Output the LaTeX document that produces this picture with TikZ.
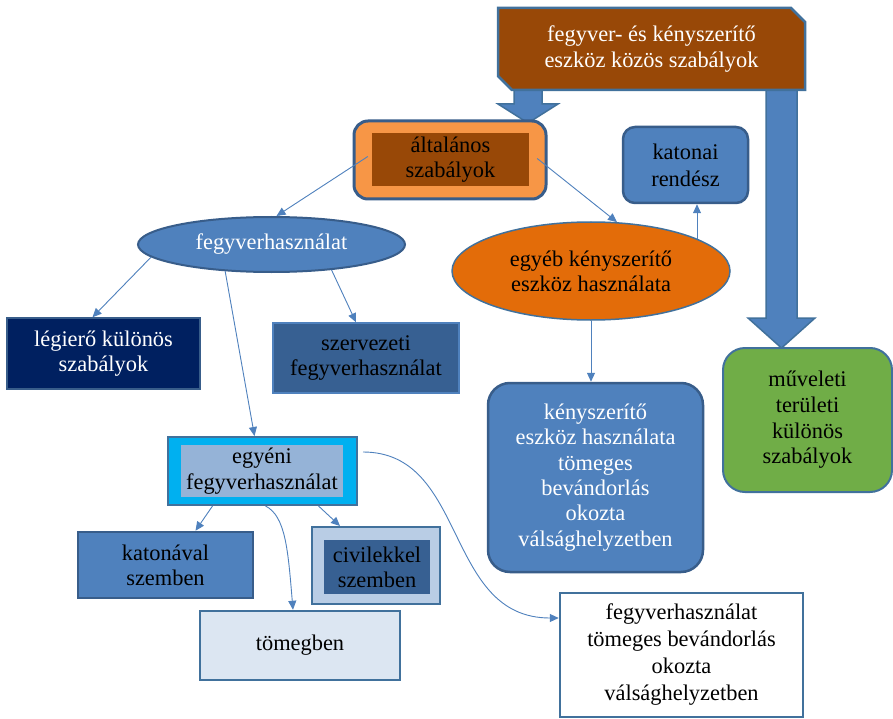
\documentclass[tikz,border=0pt]{standalone}
\usepackage{fontspec}
\setmainfont{Liberation Serif}
\usetikzlibrary{shapes.geometric,arrows.meta,calc}
\definecolor{cBrown}{HTML}{984807}
\definecolor{cOrangeL}{HTML}{F79646}
\definecolor{cOrange}{HTML}{E36C09}
\definecolor{cBlue}{HTML}{4F81BD}
\definecolor{cDark}{HTML}{385D8A}
\definecolor{cEdge}{HTML}{41719C}
\definecolor{cNavy}{HTML}{002060}
\definecolor{cMid}{HTML}{376092}
\definecolor{cCyan}{HTML}{00B0F0}
\definecolor{cLight}{HTML}{95B3D7}
\definecolor{cPale}{HTML}{B9CDE5}
\definecolor{cPaler}{HTML}{DCE6F2}
\definecolor{cGreen}{HTML}{70AD47}
\begin{document}
\begin{tikzpicture}[x=1pt,y=-1pt,
  every node/.style={font=\fontsize{22.4}{25.3}\selectfont, align=center, inner sep=0pt},
  conn/.style={draw=cBlue, line width=0.9pt, -{Triangle[length=9pt,width=8pt]}},
  blockarrow/.style={fill=cBlue, draw=cEdge, line width=1.5pt},
  boxstyle/.style={draw=cEdge, line width=2pt},
  wtext/.style={text=white},
  ktext/.style={text=black}]
\useasboundingbox (0,0) rectangle (893,719);
\fill[white] (0,0) rectangle (893,719);

% block arrows
\draw[blockarrow] (514,88) -- (542,88) -- (542,104) -- (558,104) -- (528,123) -- (498,104) -- (514,104) -- cycle;
\draw[blockarrow] (766,88) -- (797,88) -- (797,318) -- (815,318) -- (781.5,348) -- (748,318) -- (766,318) -- cycle;

% top box
\draw[fill=cBrown, draw=cEdge, line width=2.5pt] (498,8) -- (791,8) -- (805,22) -- (805,90) -- (512,90) -- (498,76) -- cycle;
\node[wtext] (top) at (651.5,49) {fegyver- és kényszerítő\\eszköz közös szabályok};

% általános
\node[draw=cDark, line width=3pt, fill=cOrangeL, rounded corners=14pt, minimum width=192pt, minimum height=78pt] (alt) at (450,160) {};
\node[fill=cBrown, ktext, minimum width=157pt, minimum height=53pt] (altin) at (450.5,159.5) {általános\\szabályok};

% katonai rendész
\node[draw=cDark, line width=2.5pt, fill=cBlue, rounded corners=12pt, minimum width=125pt, minimum height=76pt, ktext, font=\fontsize{22.4}{27}\selectfont] (katonai) at (685.5,165) {katonai\\rendész};

% ellipses
\node[ellipse, draw=cDark, line width=2pt, fill=cBlue, minimum width=267pt, minimum height=55pt, wtext] (fegy) at (271.5,244.5) {fegyverhasználat};
\node[ellipse, draw=cEdge, line width=1.5pt, fill=cOrange, minimum width=278pt, minimum height=98pt, ktext] (egyeb) at (591,271) {egyéb kényszerítő\\eszköz használata};

% right column boxes
\node[draw=cDark, line width=2.5pt, fill=cBlue, rounded corners=22pt, minimum width=215pt, minimum height=189pt, wtext] (kenysz) at (595.5,477.5) {kényszerítő\\eszköz használata\\tömeges\\bevándorlás\\okozta\\válsághelyzetben};
\node[draw=cEdge, line width=2pt, fill=cGreen, rounded corners=22pt, minimum width=169pt, minimum height=144pt, ktext, font=\fontsize{22.4}{25.7}\selectfont] (muv) at (807.5,420) {műveleti\\területi\\különös\\szabályok};

% left boxes
\node[draw=cDark, line width=1.5pt, fill=cNavy, minimum width=193pt, minimum height=71pt, wtext] (legi) at (103.5,353.5) {légierő különös\\szabályok};
\node[draw=cBlue, line width=1.5pt, fill=cMid, minimum width=186pt, minimum height=70pt, ktext] (szerv) at (366,358) {szervezeti\\fegyverhasználat};

% egyéni
\node[boxstyle, fill=cCyan, minimum width=189pt, minimum height=68pt] (egyeni) at (262.5,471) {};
\node[fill=cLight, minimum width=162pt, minimum height=52pt, ktext] (egyeniin) at (262,471) {egyéni\\fegyverhasználat};

\node[draw=cDark, line width=2.5pt, fill=cBlue, minimum width=175pt, minimum height=66pt, ktext] (katonaval) at (165.5,565) {katonával\\szemben};
\node[boxstyle, fill=cPale, minimum width=128pt, minimum height=77pt] (civil) at (376,565.5) {};
\node[fill=cMid, minimum width=106pt, minimum height=54pt, ktext] (civilin) at (377,567) {civilekkel\\szemben};
\node[boxstyle, line width=2.5pt, fill=cPaler, minimum width=200pt, minimum height=69pt, ktext] (tomeg) at (300,645.5) {tömegben};
\node[boxstyle, line width=2.5pt, fill=white, minimum width=243pt, minimum height=124pt, ktext, font=\fontsize{22.4}{27}\selectfont] (fegyv2) at (681.5,655) {fegyverhasználat\\tömeges bevándorlás\\okozta\\válsághelyzetben};

% connectors
\draw[conn] ([xshift=-4pt,yshift=3pt]altin.west) -- ([xshift=5pt]fegy.north);
\draw[conn] ([xshift=8pt,yshift=1pt]altin.east) -- (egyeb.62);
\draw[conn] (egyeb.17) -- (egyeb.17 |- katonai.south);
\draw[conn] (egyeb.south) -- (egyeb.south |- kenysz.north);
\draw[conn] (fegy.186) -- ([xshift=-11pt]legi.north);
\draw[conn] (fegy.-23) -- ([xshift=-10pt]szerv.north);
\draw[conn] (fegy.-150) -- ([xshift=-8pt]egyeni.north);
\draw[conn] ([xshift=-50pt]egyeni.south) -- ([xshift=30pt]katonaval.north);
\draw[conn] ([xshift=56pt]egyeni.south) -- ([xshift=-36pt]civil.north);
\coordinate (s1) at ([xshift=3pt]egyeni.south);
\coordinate (e1) at ([xshift=-7pt]tomeg.north);
\draw[conn] (s1) .. controls ($(s1)+(20,10)$) and ($(e1)+(-5,-60)$) .. (e1);
\coordinate (s2) at ([xshift=5pt,yshift=19pt]egyeni.east);
\coordinate (e2) at ([yshift=37pt]fegyv2.west);
\draw[conn] (s2) .. controls ($(s2)+(105,0)$) and ($(e2)+(-115,0)$) .. (e2);
\end{tikzpicture}
\end{document}
